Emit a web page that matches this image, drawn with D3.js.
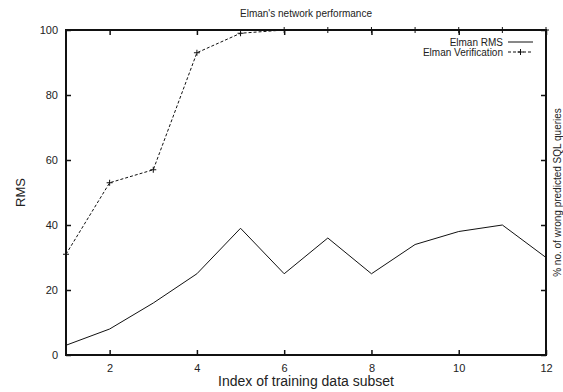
<!DOCTYPE html>
<html>
<head>
<meta charset="utf-8">
<script src="https://cdn.jsdelivr.net/npm/d3@7"></script>
<style>
  body { margin: 0; background: #fff; }
  text { font-family: "Liberation Sans", Arial, sans-serif; fill: #222; }
</style>
</head>
<body>
<div id="plot-container"></div>
<script>
const subsetIndex = [1, 2, 3, 4, 5, 6, 7, 8, 9, 10, 11, 12];
const elmanRms = [3, 8, 16, 25, 39, 25, 36, 25, 34, 38, 40, 30];
const elmanVerification = [31, 53, 57, 93, 99, 100, 100, 100, 100, 100, 100, 100];
const xTicks = [2, 4, 6, 8, 10, 12];
const yTicks = [0, 20, 40, 60, 80, 100];

const canvasWidth = 563;
const canvasHeight = 392;
const m = { left: 66, right: 546, top: 30, bottom: 355 };

const svg = d3.select('#plot-container')
  .append('svg')
  .attr('width', canvasWidth)
  .attr('height', canvasHeight);

const xScale = d3.scaleLinear().domain([1, 12]).range([m.left, m.right]);
const yScale = d3.scaleLinear().domain([0, 100]).range([m.bottom, m.top]);

const tickLen = 5;

// axes, gnuplot style: ticks point inward, mirrored on the other side
const xAxis = d3.axisBottom(xScale).tickValues(xTicks).tickSizeInner(-tickLen).tickSizeOuter(0).tickPadding(9);
const yAxis = d3.axisLeft(yScale).tickValues(yTicks).tickSizeInner(-tickLen).tickSizeOuter(0).tickPadding(8);
const xTop = d3.axisTop(xScale).tickValues(xTicks).tickSizeInner(-tickLen).tickSizeOuter(0).tickFormat('');
const yRight = d3.axisRight(yScale).tickValues(yTicks).tickSizeInner(-tickLen).tickSizeOuter(0).tickFormat('');

svg.append('g').attr('transform', `translate(0, ${m.bottom})`).call(xAxis);
svg.append('g').attr('transform', `translate(${m.left}, 0)`).call(yAxis);
svg.append('g').attr('transform', `translate(0, ${m.top})`).call(xTop);
svg.append('g').attr('transform', `translate(${m.right}, 0)`).call(yRight);

svg.selectAll('.domain').remove();
svg.selectAll('.tick line').attr('stroke', '#111').attr('stroke-width', 1.5);
svg.selectAll('.tick text').attr('font-size', 11).attr('fill', '#222');

svg.append('rect')
  .attr('x', m.left).attr('y', m.top)
  .attr('width', m.right - m.left).attr('height', m.bottom - m.top)
  .attr('fill', 'none').attr('stroke', '#111').attr('stroke-width', 2);

// titles
svg.append('text').attr('x', (m.left + m.right) / 2).attr('y', 17).attr('text-anchor', 'middle')
  .attr('font-size', 10).text("Elman's network performance");
svg.append('text').attr('x', (m.left + m.right) / 2).attr('y', 386).attr('text-anchor', 'middle')
  .attr('font-size', 14).text('Index of training data subset');
svg.append('text').attr('transform', `translate(25, ${(m.top + m.bottom) / 2}) rotate(-90)`)
  .attr('text-anchor', 'middle').attr('font-size', 13).text('RMS');
svg.append('text').attr('transform', `translate(561, ${(m.top + m.bottom) / 2}) rotate(-90)`)
  .attr('text-anchor', 'middle').attr('font-size', 10).text('% no. of wrong predicted SQL queries');

const line = d3.line()
  .x((d, i) => xScale(subsetIndex[i]))
  .y(d => yScale(d));

svg.append('path')
  .attr('d', line(elmanRms))
  .attr('fill', 'none').attr('stroke', '#111').attr('stroke-width', 1);

svg.append('path')
  .attr('d', line(elmanVerification))
  .attr('fill', 'none').attr('stroke', '#111').attr('stroke-width', 1)
  .attr('stroke-dasharray', '3,2');

// + markers
svg.selectAll('.pt')
  .data(elmanVerification)
  .enter()
  .append('path')
  .attr('class', 'pt')
  .attr('d', (d, i) => {
    const x = xScale(subsetIndex[i]), y = yScale(d), r = 3;
    return `M${x - r},${y}H${x + r}M${x},${y - r}V${y + r}`;
  })
  .attr('stroke', '#111').attr('stroke-width', 1);

// legend
const legend = [
  { label: 'Elman RMS', dash: null, marker: false },
  { label: 'Elman Verification', dash: '3,2', marker: true }
];
legend.forEach((l, i) => {
  const y = 42 + i * 10;
  svg.append('text').attr('x', 503).attr('y', y + 3.5).attr('text-anchor', 'end')
    .attr('font-size', 10).text(l.label);
  svg.append('line').attr('x1', 508).attr('x2', 533).attr('y1', y).attr('y2', y)
    .attr('stroke', '#111').attr('stroke-width', 1)
    .attr('stroke-dasharray', l.dash);
  if (l.marker) {
    svg.append('path').attr('d', `M517.5,${y}H523.5M520.5,${y - 3}V${y + 3}`)
      .attr('stroke', '#111').attr('stroke-width', 1);
  }
});
</script>
</body>
</html>
